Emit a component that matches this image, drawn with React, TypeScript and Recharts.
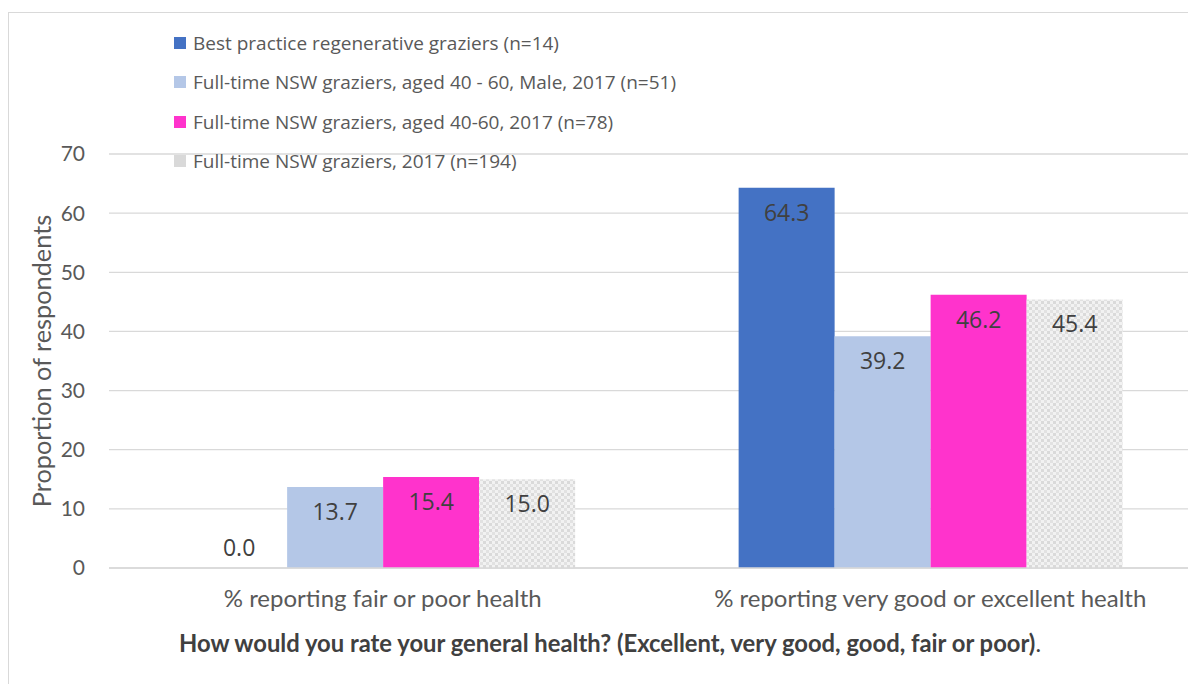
import React from 'react';
import { BarChart, Bar, XAxis, YAxis, CartesianGrid, Legend, LabelList, Label } from 'recharts';

const categories = ['% reporting fair or poor health', '% reporting very good or excellent health'];
const bestPractice = [0.0, 64.3];
const male4060 = [13.7, 39.2];
const aged4060 = [15.4, 46.2];
const allNsw = [15.0, 45.4];
const yTicks = [0, 10, 20, 30, 40, 50, 60, 70];

const seriesNames = [
  'Best practice regenerative graziers (n=14)',
  'Full-time NSW graziers, aged 40 - 60, Male, 2017 (n=51)',
  'Full-time NSW graziers, aged 40-60, 2017 (n=78)',
  'Full-time NSW graziers, 2017 (n=194)',
];
const seriesKeys = ['best', 'male', 'aged', 'all'];
const seriesFills = ['#4472c4', '#b4c7e7', '#ff33cc', 'url(#greyDots)'];
const legendSwatches = ['#4472c4', '#b4c7e7', '#ff33cc', '#d9d9d9'];

const data = categories.map((name, i) => ({
  name,
  best: bestPractice[i],
  male: male4060[i],
  aged: aged4060[i],
  all: allNsw[i],
}));

const calibri = 'Lato, "Open Sans", sans-serif';
const segoe = '"Open Sans", "Noto Sans", sans-serif';

const renderLegend = () => (
  <div style={{ fontFamily: segoe, fontSize: 19, color: '#595959' }}>
    {seriesNames.map((s, i) => (
      <div key={s} style={{ display: 'flex', alignItems: 'center', height: 39.5, whiteSpace: 'nowrap' }}>
        <span style={{ width: 12, height: 12, background: legendSwatches[i], marginRight: 7, display: 'inline-block' }} />
        <span>{s}</span>
      </div>
    ))}
  </div>
);

const renderValue = (props: any) => {
  const { x, y, width, height, value } = props;
  const cy = Math.abs(height) > 30 ? y + 24 : y - 21;
  return (
    <text
      x={x + width / 2}
      y={cy}
      textAnchor="middle"
      dominantBaseline="central"
      fill="#404040"
      fontFamily={segoe}
      fontSize={23}
    >
      {Number(value).toFixed(1)}
    </text>
  );
};

const renderTitle = (props: any) => {
  const { viewBox } = props;
  return (
    <text x={170} y={viewBox.y + 84} fill="#404040" fontFamily={calibri} fontSize={23.8}>
      <tspan fontWeight="bold">How would you rate your general health? (Excellent, very good, good, fair or poor)</tspan>
      <tspan>.</tspan>
    </text>
  );
};

const renderYLabel = (props: any) => {
  const { viewBox } = props;
  const cx = 32;
  const cy = viewBox.y + viewBox.height / 2;
  return (
    <text
      x={cx}
      y={cy}
      transform={`rotate(-90 ${cx} ${cy})`}
      textAnchor="middle"
      dominantBaseline="central"
      fill="#595959"
      fontFamily={calibri}
      fontSize={25.3}
    >
      Proportion of respondents
    </text>
  );
};

export default function App() {
  return (
    <div
      style={{
        width: 1188,
        height: 672,
        marginTop: 4,
        borderTop: '1px solid #d9d9d9',
        borderLeft: '1px solid #d9d9d9',
        overflow: 'hidden',
        background: '#fff',
      }}
    >
      <BarChart
        width={1200}
        height={680}
        data={data}
        barCategoryGap="15%"
        barGap={0}
        margin={{ top: 141, right: 5, left: 0, bottom: 15 }}
      >
        <defs>
          <pattern id="greyDots" width="6" height="6" patternUnits="userSpaceOnUse">
            <rect width="6" height="6" fill="#f2f2f2" />
            <rect x="0" y="0" width="3" height="3" fill="#dadada" />
            <rect x="3" y="3" width="3" height="3" fill="#e2e2e2" />
          </pattern>
        </defs>
        <CartesianGrid vertical={false} stroke="#d9d9d9" strokeWidth={1.3} />
        <XAxis
          dataKey="name"
          height={110}
          axisLine={{ stroke: '#d9d9d9', strokeWidth: 1.3 }}
          tickLine={false}
          tickMargin={16}
          tick={{ fill: '#595959', fontFamily: calibri, fontSize: 24 }}
        >
          <Label content={renderTitle} />
        </XAxis>
        <YAxis
          width={100}
          domain={[0, 70]}
          ticks={yTicks}
          axisLine={false}
          tickLine={false}
          tickMargin={18}
          tick={{ fill: '#595959', fontFamily: calibri, fontSize: 21 }}
        >
          <Label content={renderYLabel} />
        </YAxis>
        <Legend
          content={renderLegend}
          layout="vertical"
          align="center"
          verticalAlign="middle"
          wrapperStyle={{ top: 10, left: 165, width: 700 }}
        />
        {seriesKeys.map((k, i) => (
          <Bar
            key={k}
            dataKey={k}
            name={seriesNames[i]}
            fill={seriesFills[i]}
            minPointSize={0.01}
            isAnimationActive={false}
          >
            <LabelList dataKey={k} content={renderValue} />
          </Bar>
        ))}
      </BarChart>
    </div>
  );
}
